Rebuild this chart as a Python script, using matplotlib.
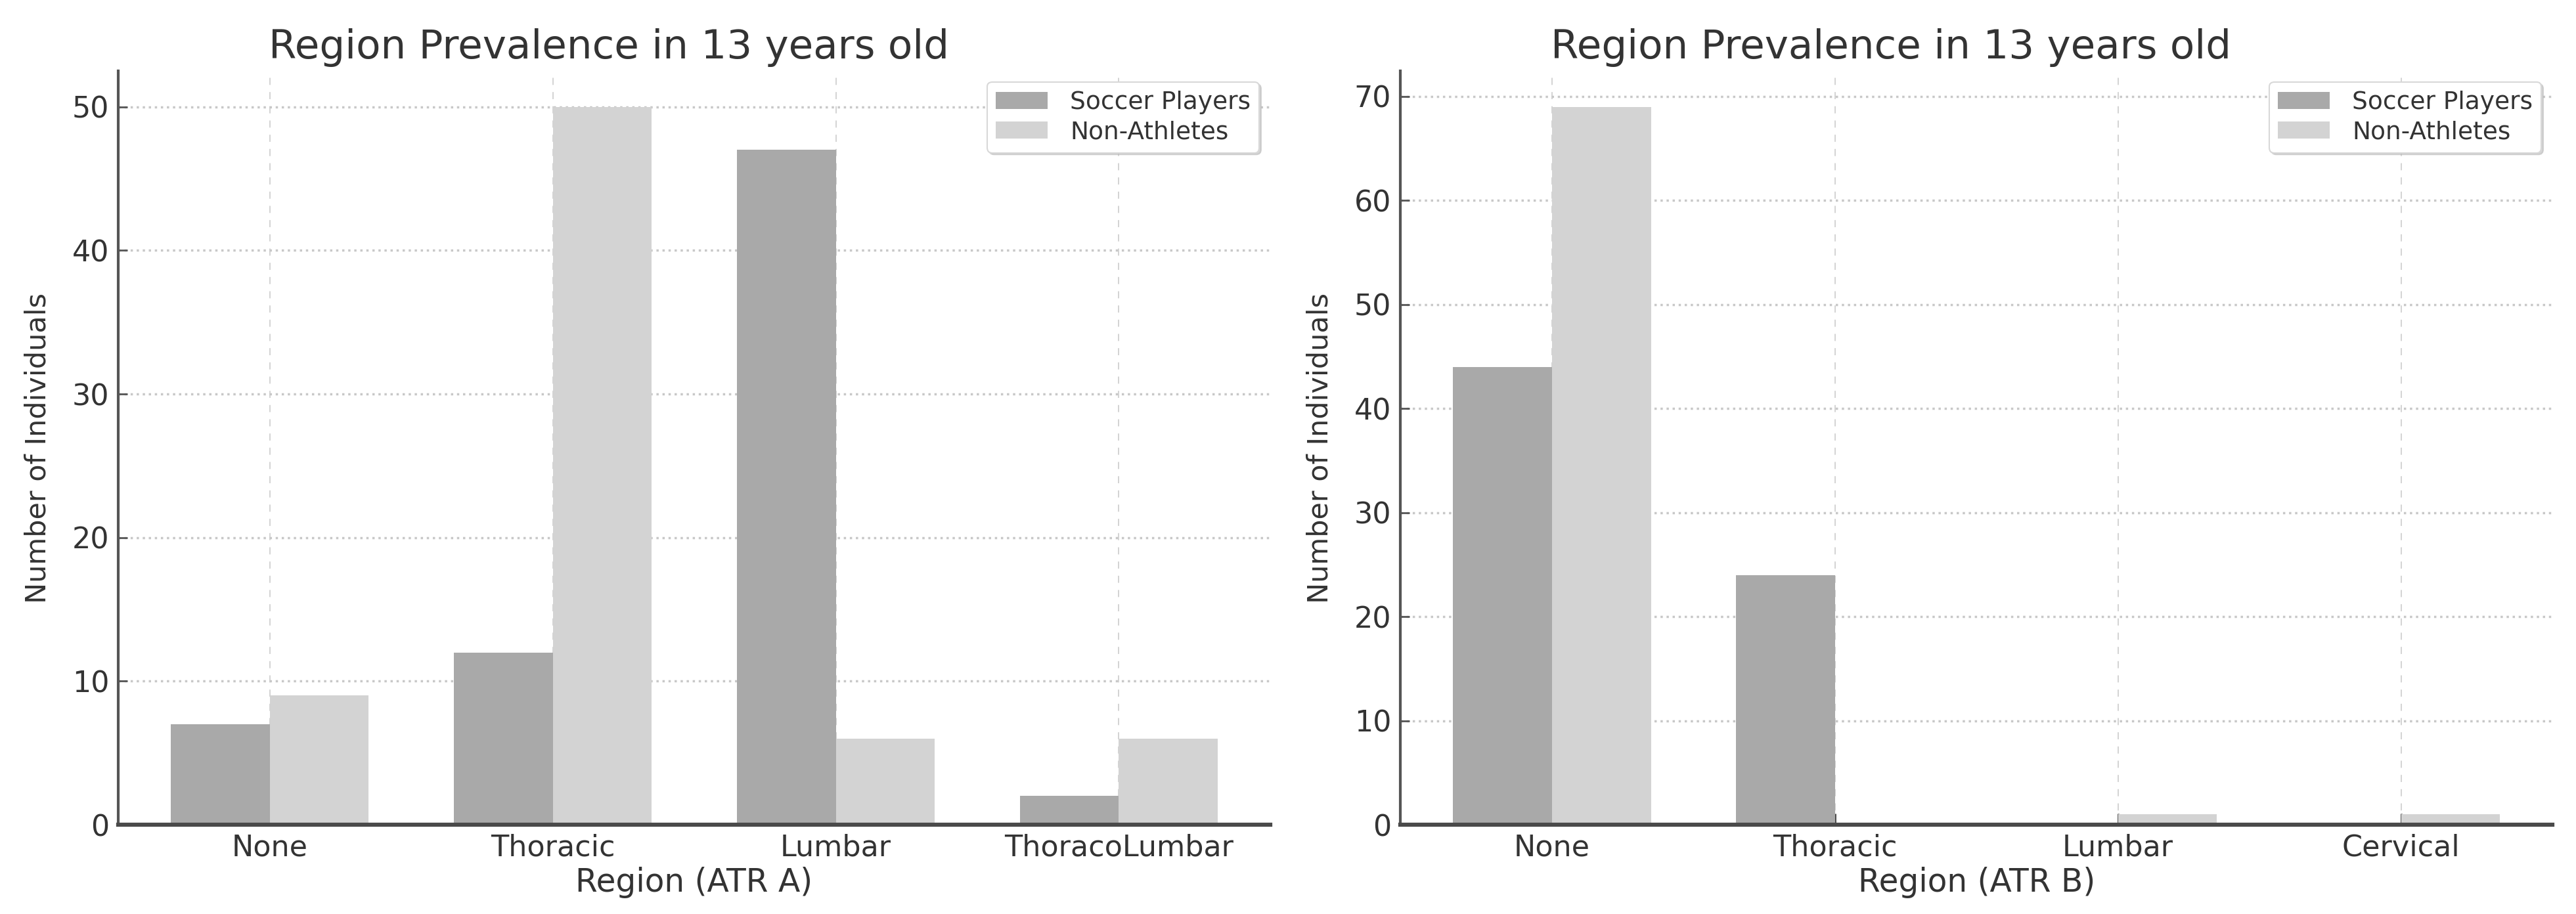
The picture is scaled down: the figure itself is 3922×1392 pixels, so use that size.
import matplotlib
matplotlib.use('Agg')
import matplotlib.pyplot as plt
import numpy as np

# data
regions_a = ['None', 'Thoracic', 'Lumbar', 'ThoracoLumbar']
soccer_a = [7, 12, 47, 2]
non_athletes_a = [9, 50, 6, 6]

regions_b = ['None', 'Thoracic', 'Lumbar', 'Cervical']
soccer_b = [44, 24, 0, 0]
non_athletes_b = [69, 0, 1, 1]

title = 'Region Prevalence in 13 years old'
soccer_color = '#a9a9a9'
non_color = '#d3d3d3'
text_color = '#333333'


def draw_panel(ax, regions, soccer, non, xlabel):
    x = np.arange(len(regions))
    width = 0.35
    ax.bar(x - width / 2, soccer, width, color=soccer_color, label='Soccer Players', zorder=2)
    ax.bar(x + width / 2, non, width, color=non_color, label='Non-Athletes', zorder=2)
    ax.set_xticks(x)
    ax.set_xticklabels(regions)

    t = ax.set_title(title, fontsize=44, color=text_color, pad=14)
    t.set_x(0.426)
    ax.set_xlabel(xlabel, fontsize=35, color=text_color)
    ax.set_ylabel('Number of Individuals', fontsize=31, color=text_color)
    ax.xaxis.set_label_coords(0.5, -0.056)
    ax.yaxis.set_label_coords(-0.058, 0.5)

    ax.tick_params(axis='x', direction='in', length=12, width=2, labelsize=32,
                   labelcolor=text_color, color='#444444', pad=10)
    ax.tick_params(axis='y', direction='in', length=10, width=2, labelsize=32,
                   labelcolor=text_color, color='#555555', pad=10)
    ax.grid(axis='x', linestyle='--', color='#d0d0d0', linewidth=1.3, dashes=(6, 6), zorder=0)
    ax.grid(axis='y', linestyle=':', color='#c8c8c8', linewidth=2.5, zorder=0)

    ax.spines['top'].set_visible(False)
    ax.spines['right'].set_visible(False)
    ax.spines['left'].set_linewidth(3)
    ax.spines['left'].set_color('#555555')
    ax.spines['bottom'].set_linewidth(4.5)
    ax.spines['bottom'].set_color('#4a4a4a')

    leg = ax.legend(loc='upper right', fontsize=27, frameon=True, fancybox=True,
                    shadow={'color': '#bbbbbb', 'alpha': 0.6, 'ox': 2, 'oy': -2},
                    borderpad=0.35, handlelength=2.1, handletextpad=0.9,
                    labelspacing=0.25, borderaxespad=0.45, labelcolor=text_color,
                    framealpha=1)
    leg.get_frame().set_edgecolor('#d8d8d8')
    leg.get_frame().set_linewidth(1.5)


fig = plt.figure(figsize=(39.23, 13.92), dpi=100)
ax1 = fig.add_axes([0.0459, 0.0977, 0.4471, 0.8247])
ax2 = fig.add_axes([0.5435, 0.0977, 0.4471, 0.8247])

draw_panel(ax1, regions_a, soccer_a, non_athletes_a, 'Region (ATR A)')
draw_panel(ax2, regions_b, soccer_b, non_athletes_b, 'Region (ATR B)')

plt.savefig('out.png', dpi=100)
plt.close()
